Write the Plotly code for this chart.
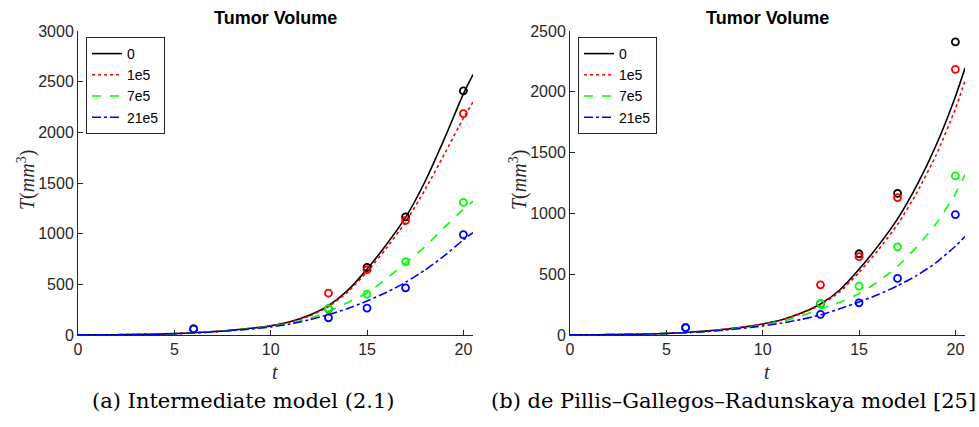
import plotly.graph_objects as go

# ---------------- data ----------------
t_curve = [0, 1, 2, 3, 4, 5, 6, 7, 8, 9, 10, 11, 12, 13, 14, 15, 16, 17, 18, 19, 20, 20.5]

# (a) Intermediate model (2.1) - model curves
a_black = [1, 1.5, 3, 5, 8, 14, 22, 33, 48, 66, 90, 130, 195, 290, 440, 650, 890, 1160, 1510, 1930, 2380, 2570]
a_red   = [1, 1.5, 3, 5, 8, 14, 22, 33, 48, 66, 90, 126, 185, 280, 425, 625, 855, 1115, 1430, 1780, 2140, 2300]
a_green = [1, 1.5, 3, 5, 8, 13, 21, 31, 45, 62, 84, 115, 160, 235, 320, 415, 555, 710, 870, 1060, 1240, 1320]
a_blue  = [1, 1.5, 3, 5, 8, 13, 20, 30, 43, 60, 80, 108, 150, 200, 262, 335, 420, 520, 640, 780, 940, 1010]

# (b) de Pillis-Gallegos-Radunskaya model - model curves
b_black = [1, 1.5, 3, 5, 8, 13, 21, 32, 47, 65, 90, 125, 180, 255, 370, 540, 735, 955, 1230, 1560, 1960, 2195]
b_red   = [1, 1.5, 3, 5, 8, 13, 21, 32, 47, 65, 89, 123, 176, 248, 355, 515, 700, 910, 1170, 1480, 1860, 2090]
b_green = [1, 1.5, 3, 5, 8, 13, 20, 30, 44, 60, 82, 112, 155, 215, 270, 340, 440, 565, 725, 915, 1160, 1320]
b_blue  = [1, 1.5, 3, 5, 8, 12, 19, 28, 40, 55, 75, 98, 128, 165, 215, 272, 333, 405, 490, 595, 730, 810]

# measured tumour volumes (same in both panels)
t_data = [6, 13, 15, 17, 20]
d_black = [60, 258, 668, 1165, 2410]
d_red   = [60, 413, 644, 1130, 2185]
d_green = [60, 259, 402, 725, 1308]
d_blue  = [60, 170, 265, 466, 990]

series_names = ["0", "1e5", "7e5", "21e5"]
colors = ["#000000", "#ff0000", "#00ff00", "#0000ff"]
dashes = ["solid", "dot", "dash", "dashdot"]

x_ticks = [0, 5, 10, 15, 20]
a_yticks = [0, 500, 1000, 1500, 2000, 2500, 3000]
b_yticks = [0, 500, 1000, 1500, 2000, 2500]

panels = [
    dict(curves=[a_black, a_red, a_green, a_blue], xa="x", ya="y", legend="legend"),
    dict(curves=[b_black, b_red, b_green, b_blue], xa="x2", ya="y2", legend="legend2"),
]
data_sets = [d_black, d_red, d_green, d_blue]

fig = go.Figure()
for p in panels:
    for i in range(4):
        fig.add_trace(go.Scatter(
            x=t_curve, y=p["curves"][i], mode="lines", name=series_names[i],
            line=dict(color=colors[i], width=1.6, dash=dashes[i], shape="spline", smoothing=0.6),
            xaxis=p["xa"], yaxis=p["ya"], legend=p["legend"], showlegend=True))
    for i in range(4):
        fig.add_trace(go.Scatter(
            x=t_data, y=data_sets[i], mode="markers",
            marker=dict(symbol="circle-open", size=7, color=colors[i], line=dict(width=1.8, color=colors[i])),
            xaxis=p["xa"], yaxis=p["ya"], showlegend=False, cliponaxis=False))

AX = "#262626"
tickfont = dict(family="Liberation Sans, Arial, sans-serif", size=16, color=AX)
ytop = 1 - 31 / 427
ybot = 1 - 335 / 427
common_x = dict(range=[0, 20.5], tickvals=x_ticks, ticks="inside", ticklen=5, tickcolor=AX,
                showline=True, linecolor=AX, linewidth=1, showgrid=False, zeroline=False,
                tickfont=tickfont, automargin=False)
common_y = dict(ticks="inside", ticklen=5, tickcolor=AX, showline=True, linecolor=AX, linewidth=1,
                showgrid=False, zeroline=False, tickfont=tickfont, automargin=False)

legend_common = dict(bgcolor="white", bordercolor=AX, borderwidth=1,
                     font=dict(family="Liberation Sans, Arial, sans-serif", size=14, color="#000000"),
                     xanchor="left", yanchor="top", itemwidth=30, tracegroupgap=0,
                     xref="paper", yref="paper")

fig.update_layout(
    template="none",
    width=979, height=427, margin=dict(l=0, r=0, t=0, b=0, pad=0), autosize=False,
    paper_bgcolor="white", plot_bgcolor="white",
    xaxis=dict(domain=[78 / 979, 473 / 979], anchor="y", **common_x),
    yaxis=dict(domain=[ybot, ytop], anchor="x", range=[0, 3000], tickvals=a_yticks, **common_y),
    xaxis2=dict(domain=[570 / 979, 965 / 979], anchor="y2", **common_x),
    yaxis2=dict(domain=[ybot, ytop], anchor="x2", range=[0, 2500], tickvals=b_yticks, **common_y),
    legend=dict(x=86 / 979, y=1 - 37 / 427, **legend_common),
    legend2=dict(x=578 / 979, y=1 - 37 / 427, **legend_common),
)

title_font = dict(family="Liberation Sans, Arial, sans-serif", size=18, color="#000000")
serif = "Liberation Serif, Times New Roman, serif"
cap_font = dict(family="DejaVu Serif, serif", size=21, color="#000000")
annotations = [
    dict(x=(78 + 473) / 2 / 979, y=1 - 18 / 427, text="<b>Tumor Volume</b>", font=title_font),
    dict(x=(570 + 965) / 2 / 979, y=1 - 18 / 427, text="<b>Tumor Volume</b>", font=title_font),
    dict(x=275 / 979, y=1 - 372 / 427, text="<i>t</i>", font=dict(family=serif, size=20, color=AX)),
    dict(x=767 / 979, y=1 - 372 / 427, text="<i>t</i>", font=dict(family=serif, size=20, color=AX)),
    dict(x=26 / 979, y=1 - 180 / 427, text="<i>T</i>(<i>mm</i><sup>3</sup>)", textangle=-90,
         font=dict(family=serif, size=20, color=AX)),
    dict(x=518 / 979, y=1 - 180 / 427, text="<i>T</i>(<i>mm</i><sup>3</sup>)", textangle=-90,
         font=dict(family=serif, size=20, color=AX)),
    dict(x=243 / 979, y=1 - 401 / 427, text="(a) Intermediate model (2.1)", font=cap_font),
    dict(x=733 / 979, y=1 - 401 / 427, text="(b) de Pillis–Gallegos–Radunskaya model [25]", font=cap_font),
]
for a in annotations:
    a.update(xref="paper", yref="paper", showarrow=False, xanchor="center", yanchor="middle")
fig.update_layout(annotations=annotations)

fig.write_html(
    "out.html",
    config={"displayModeBar": False},
    post_script="document.body.style.margin='0';document.body.style.padding='0';"
                "document.body.style.overflow='hidden';",
)
